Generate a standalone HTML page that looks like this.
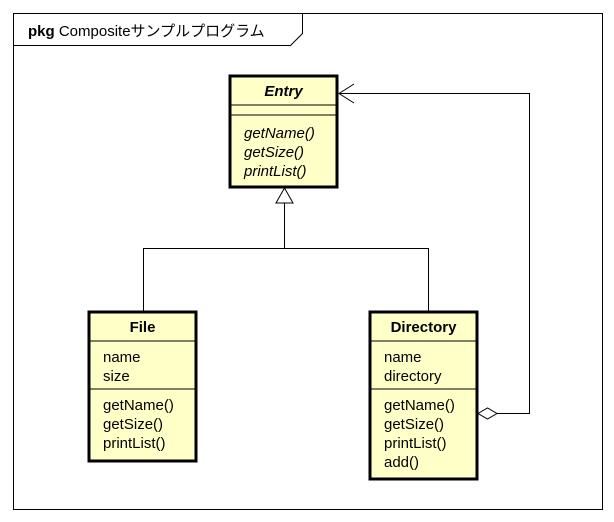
<!DOCTYPE html>
<html><head><meta charset="utf-8"><style>
html,body{margin:0;padding:0;background:#fff;width:614px;height:522px;overflow:hidden}
text{font-family:"Liberation Sans","Noto Sans CJK JP",sans-serif;font-size:15px;fill:#000}
</style></head><body>
<svg width="614" height="522" xmlns="http://www.w3.org/2000/svg">
<rect x="13.5" y="13.5" width="589" height="496" fill="#fff" stroke="#000" stroke-width="1"/>
<path d="M13.5 45.5 H290.5 L302.5 33.5 V13.5" fill="none" stroke="#000"/>
<text x="28" y="36" style="font-size:15px"><tspan font-weight="bold">pkg</tspan> Compositeサンプルプログラム</text>

<!-- connectors -->
<path d="M284.5 203 V248.5 H143.5 V311 M284.5 248.5 H428.5 V311" fill="none" stroke="#000"/>
<path d="M284.5 188 L276 203 H293 Z" fill="#fff" stroke="#000"/>
<path d="M497 413.5 H529.5 V93.5 H339" fill="none" stroke="#000"/>
<path d="M354 84 L339 93.5 L354 103" fill="none" stroke="#000"/>
<path d="M478 413.5 L487.5 408 L497 413.5 L487.5 419 Z" fill="#fff" stroke="#000"/>

<!-- Entry -->
<rect x="230" y="76" width="107" height="111" fill="#ffffc8" stroke="#000" stroke-width="3"/>
<line x1="230" y1="105" x2="337" y2="105" stroke="#000"/>
<line x1="230" y1="115" x2="337" y2="115" stroke="#000"/>
<text x="283.5" y="96" text-anchor="middle" font-weight="bold" font-style="italic">Entry</text>
<text x="244" y="138" font-style="italic">getName()</text>
<text x="244" y="157" font-style="italic">getSize()</text>
<text x="244" y="176" font-style="italic">printList()</text>

<!-- File -->
<rect x="89" y="312" width="107" height="149" fill="#ffffc8" stroke="#000" stroke-width="3"/>
<line x1="89" y1="341" x2="196" y2="341" stroke="#000"/>
<line x1="89" y1="389" x2="196" y2="389" stroke="#000"/>
<text x="142.5" y="332" text-anchor="middle" font-weight="bold">File</text>
<text x="103" y="362">name</text>
<text x="103" y="381">size</text>
<text x="103" y="410">getName()</text>
<text x="103" y="429">getSize()</text>
<text x="103" y="448">printList()</text>

<!-- Directory -->
<rect x="370" y="312" width="107" height="167" fill="#ffffc8" stroke="#000" stroke-width="3"/>
<line x1="370" y1="341" x2="477" y2="341" stroke="#000"/>
<line x1="370" y1="389" x2="477" y2="389" stroke="#000"/>
<text x="423.5" y="332" text-anchor="middle" font-weight="bold">Directory</text>
<text x="384" y="362">name</text>
<text x="384" y="381">directory</text>
<text x="384" y="410">getName()</text>
<text x="384" y="429">getSize()</text>
<text x="384" y="448">printList()</text>
<text x="384" y="467">add()</text>
</svg>
</body></html>
